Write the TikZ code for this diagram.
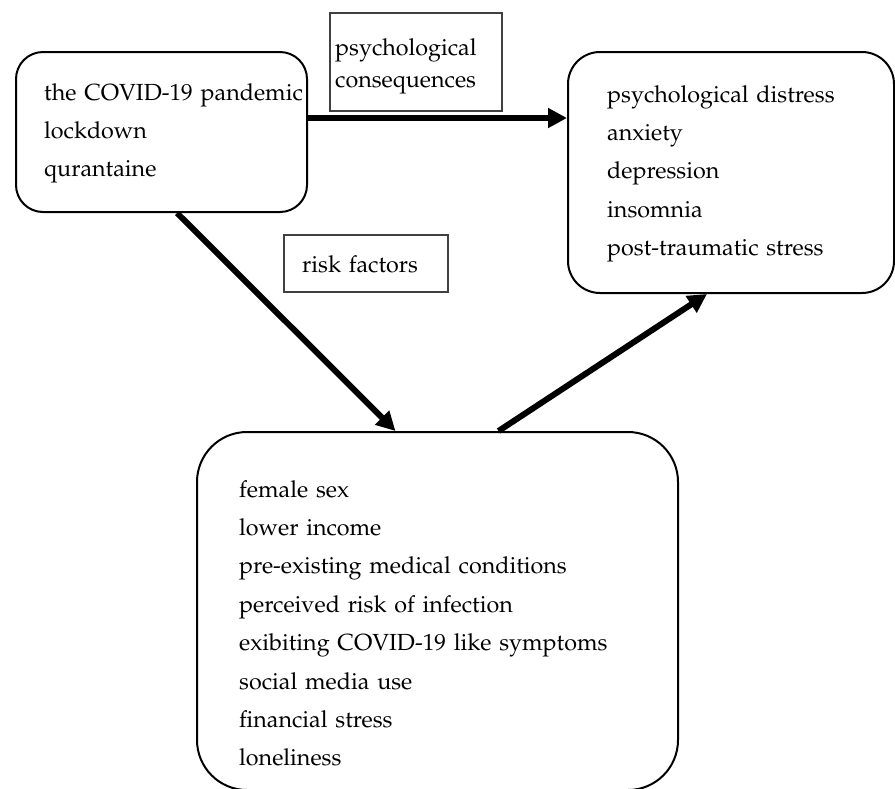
\documentclass[tikz,border=0pt]{standalone}
\usepackage[T1]{fontenc}
\usepackage{mathpazo}
\usetikzlibrary{arrows.meta}

\tikzset{
  mainbox/.style={draw=black, line width=2pt, inner sep=0pt},
  labelbox/.style={draw=black!75, line width=1.3pt, inner sep=0pt},
  boxtext/.style={anchor=base west, inner sep=0pt, text width=450pt, align=left,
    font=\fontsize{23.3}{38.4}\selectfont},
  labeltext/.style={anchor=base west, inner sep=0pt, text width=300pt, align=left,
    font=\fontsize{23.3}{32}\selectfont},
  arr/.style={line width=6pt, -{Triangle[length=19pt,width=19pt]}},
}

\begin{document}
\begin{tikzpicture}[x=1pt, y=-1pt]
  \useasboundingbox (0,0) rectangle (895,788);

  % outer boxes
  \node[mainbox, rounded corners=27pt, minimum width=291pt, minimum height=160pt] (b1) at (161.5,132) {};
  \node[mainbox, rounded corners=32pt, minimum width=326pt, minimum height=241pt] (b2) at (731,172.5) {};
  \node[mainbox, rounded corners=50pt, minimum width=481pt, minimum height=358pt] (b3) at (437.5,611) {};

  % labels on the connectors
  \node[labelbox, minimum width=172pt, minimum height=98pt] (l1) at (416,62) {};
  \node[labelbox, minimum width=164pt, minimum height=57pt] (l2) at (366,263.5) {};

  % box contents
  \node[boxtext] (t1) at (44,100) {the COVID-19 pandemic\\lockdown\\qurantaine};
  \node[boxtext] (t2) at (607,102) {psychological distress\\anxiety\\depression\\insomnia\\post-traumatic stress};
  \node[boxtext] (t3) at (239,497) {female sex\\lower income\\pre-existing medical conditions\\perceived risk of infection\\exibiting COVID-19 like symptoms\\social media use\\financial stress\\loneliness};
  \node[labeltext] (lt1) at (335,55) {psychological\\consequences};
  \node[labeltext] (lt2) at (302,272) {risk factors};

  % connectors
  \coordinate (ay) at (0,118);
  \draw[arr] (b1.east |- ay) -- (b2.west |- ay);
  \draw[arr] ([xshift=15.5pt]b1.south) -- ([xshift=-42pt]b3.north);
  \draw[arr] ([xshift=61pt]b3.north) -- ([xshift=-24pt]b2.south);
\end{tikzpicture}
\end{document}
